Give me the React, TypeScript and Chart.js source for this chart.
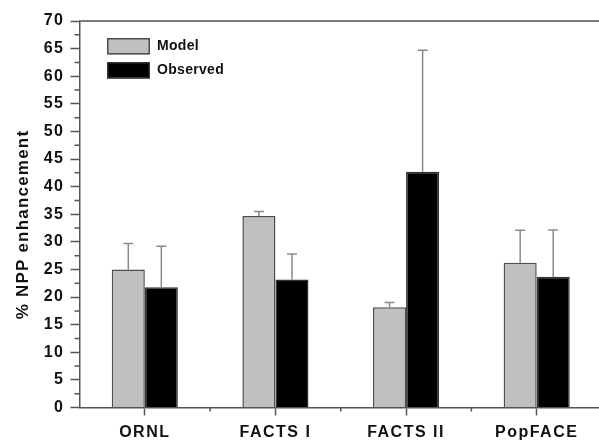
import React, { useEffect, useRef } from 'react';
import { Chart, registerables } from 'chart.js';

Chart.register(...registerables);

const categories = ['ORNL', 'FACTS I', 'FACTS II', 'PopFACE'];
const seriesLabels = ['Model', 'Observed'];
const modelValues = [25.0, 34.7, 18.15, 26.2];
const modelErrors = [4.7, 0.8, 0.85, 5.9];
const observedValues = [21.8, 23.2, 42.7, 23.7];
const observedErrors = [7.4, 4.6, 22.0, 8.45];
const yMin = 0;
const yMax = 70;
const yStep = 5;
const yTitle = '% NPP enhancement';

const FONT = "'Liberation Sans', Arial, Helvetica, sans-serif";

const decor = {
  id: 'decor',
  beforeDraw(chart: any) {
    chart.ctx.letterSpacing = '1.5px';
  },
  afterDatasetsDraw(chart: any) {
    const { ctx, scales } = chart;
    const y = scales.y;
    ctx.save();
    chart.data.datasets.forEach((ds: any, di: number) => {
      const meta = chart.getDatasetMeta(di);
      const errs: number[] = ds.errors;
      meta.data.forEach((bar: any, i: number) => {
        const top = y.getPixelForValue(ds.data[i] + errs[i]);
        ctx.strokeStyle = '#8a8a8a';
        ctx.lineWidth = 1.5;
        ctx.beginPath();
        ctx.moveTo(bar.x, bar.y);
        ctx.lineTo(bar.x, top);
        ctx.moveTo(bar.x - 5, top);
        ctx.lineTo(bar.x + 5, top);
        ctx.stroke();
      });
    });
    ctx.restore();
  },
  afterDraw(chart: any) {
    const { ctx, chartArea, scales } = chart;
    const x = scales.x;
    const y = scales.y;
    ctx.save();
    // top frame line
    ctx.strokeStyle = '#7a7a7a';
    ctx.lineWidth = 2;
    ctx.beginPath();
    ctx.moveTo(chartArea.left, chartArea.top);
    ctx.lineTo(chart.width, chartArea.top);
    ctx.stroke();
    // minor y ticks
    ctx.strokeStyle = '#555';
    ctx.lineWidth = 1.5;
    ctx.beginPath();
    for (let v = yMin + yStep / 2; v < yMax; v += yStep) {
      const py = y.getPixelForValue(v);
      ctx.moveTo(chartArea.left - 5, py);
      ctx.lineTo(chartArea.left, py);
    }
    // minor x ticks
    for (let i = 0; i < categories.length - 1; i++) {
      const px = (x.getPixelForValue(i) + x.getPixelForValue(i + 1)) / 2;
      ctx.moveTo(px, chartArea.bottom);
      ctx.lineTo(px, chartArea.bottom + 4);
    }
    ctx.stroke();

    // legend
    const lx = chartArea.left + 27.5;
    const ly = chartArea.top + 17;
    ctx.letterSpacing = '0.3px';
    ctx.font = `bold 14px ${FONT}`;
    ctx.textAlign = 'left';
    ctx.textBaseline = 'middle';
    chart.data.datasets.forEach((ds: any, di: number) => {
      const by = ly + di * 24;
      ctx.fillStyle = ds.backgroundColor;
      ctx.fillRect(lx, by, 43, 16.5);
      ctx.strokeStyle = ds.borderColor;
      ctx.lineWidth = 1.5;
      ctx.strokeRect(lx + 0.75, by + 0.75, 41.5, 15);
      ctx.fillStyle = '#111';
      ctx.fillText(ds.label, lx + 50, by + 8.5);
    });

    // y title
    ctx.translate(23, 224.5);
    ctx.rotate(-Math.PI / 2);
    ctx.letterSpacing = '1.2px';
    ctx.font = `bold 17px ${FONT}`;
    ctx.textAlign = 'center';
    ctx.textBaseline = 'middle';
    ctx.fillStyle = '#111';
    ctx.fillText(yTitle, 0, 0);
    ctx.restore();
  },
};

export default function App() {
  const ref = useRef<HTMLCanvasElement | null>(null);
  useEffect(() => {
    document.body.style.margin = '0';
    document.body.style.overflow = 'hidden';
    if (!ref.current) return;
    const chart = new Chart(ref.current, {
      type: 'bar',
      data: {
        labels: categories,
        datasets: [
          {
            label: seriesLabels[0],
            data: modelValues,
            errors: modelErrors,
            backgroundColor: '#c0c0c0',
            borderColor: '#4d4d4d',
            borderWidth: 1.5,
            categoryPercentage: 0.506,
            barPercentage: 1,
          } as any,
          {
            label: seriesLabels[1],
            data: observedValues,
            errors: observedErrors,
            backgroundColor: '#000000',
            borderColor: '#333333',
            borderWidth: 1.5,
            categoryPercentage: 0.506,
            barPercentage: 1,
          } as any,
        ],
      },
      options: {
        responsive: false,
        animation: false,
        layout: { padding: { top: 21, left: 0, right: 0, bottom: 0 } },
        plugins: {
          legend: { display: false },
          tooltip: { enabled: false },
          title: { display: false },
        },
        scales: {
          x: {
            grid: {
              display: true,
              offset: false,
              drawOnChartArea: false,
              drawTicks: true,
              tickLength: 8,
              tickWidth: 1.5,
              color: '#555',
            },
            border: { display: true, color: '#555', width: 1.5 },
            ticks: {
              color: '#111',
              font: { family: FONT, size: 16, weight: 'bold' },
              padding: 7,
              maxRotation: 0,
              autoSkip: false,
            },
            afterFit: (s: any) => {
              s.height = 33.5;
            },
          },
          y: {
            min: yMin,
            max: yMax,
            grid: {
              display: true,
              drawOnChartArea: false,
              drawTicks: true,
              tickLength: 9,
              tickWidth: 1.5,
              color: '#555',
            },
            border: { display: true, color: '#555', width: 1.5 },
            ticks: {
              stepSize: yStep,
              color: '#111',
              font: { family: FONT, size: 16, weight: 'bold' },
              padding: 6,
            },
            afterFit: (s: any) => {
              s.width = 79.5;
            },
          },
        },
      },
      plugins: [decor],
    } as any);
    return () => chart.destroy();
  }, []);
  return (
    <div style={{ position: 'fixed', left: 0, top: 0, width: 602, height: 441 }}>
      <canvas ref={ref} width={602} height={441} />
    </div>
  );
}
